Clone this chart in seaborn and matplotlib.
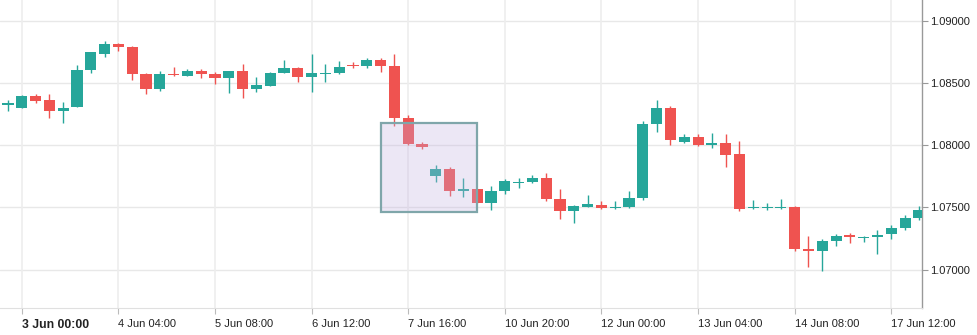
import matplotlib
matplotlib.use("Agg")
import matplotlib.pyplot as plt
import seaborn as sns
import numpy as np
import pandas as pd
from matplotlib.patches import Rectangle

# ---- data (4-hour EUR/USD style candles) ----
opens = [1.08326, 1.08301, 1.08395, 1.08363, 1.08277, 1.08309, 1.08607, 1.08735, 1.08813, 1.08789,
         1.08572, 1.08454, 1.08572, 1.08558, 1.08596, 1.08572, 1.08542, 1.08596, 1.08454, 1.08478,
         1.08582, 1.08620, 1.08550, 1.08574, 1.08582, 1.08644, 1.08639, 1.08684, 1.08636, 1.08219,
         1.08010, 1.07753, 1.07809, 1.07635, 1.07649, 1.07538, 1.07635, 1.07699, 1.07707, 1.07737,
         1.07568, 1.07474, 1.07506, 1.07520, 1.07498, 1.07506, 1.07576, 1.08173, 1.08299, 1.08028,
         1.08066, 1.08004, 1.08018, 1.07930, 1.07498, 1.07498, 1.07498, 1.07504, 1.07167, 1.07153,
         1.07233, 1.07279, 1.07258, 1.07266, 1.07290, 1.07338, 1.07418]
highs = [1.08361, 1.08403, 1.08411, 1.08411, 1.08347, 1.08644, 1.08752, 1.08839, 1.08819, 1.08797,
         1.08582, 1.08596, 1.08631, 1.08615, 1.08612, 1.08588, 1.08599, 1.08652, 1.08548, 1.08588,
         1.08684, 1.08628, 1.08733, 1.08652, 1.08676, 1.08668, 1.08700, 1.08700, 1.08733, 1.08243,
         1.08026, 1.07841, 1.07825, 1.07737, 1.07652, 1.07673, 1.07729, 1.07737, 1.07761, 1.07777,
         1.07649, 1.07520, 1.07600, 1.07552, 1.07552, 1.07633, 1.08195, 1.08363, 1.08315, 1.08090,
         1.08090, 1.08098, 1.08090, 1.08034, 1.07560, 1.07536, 1.07568, 1.07512, 1.07271, 1.07247,
         1.07287, 1.07295, 1.07274, 1.07319, 1.07359, 1.07440, 1.07512]
lows = [1.08277, 1.08298, 1.08342, 1.08221, 1.08181, 1.08305, 1.08582, 1.08711, 1.08759, 1.08526,
        1.08414, 1.08438, 1.08558, 1.08555, 1.08542, 1.08492, 1.08422, 1.08382, 1.08430, 1.08475,
        1.08580, 1.08510, 1.08430, 1.08510, 1.08574, 1.08623, 1.08623, 1.08590, 1.08157, 1.08002,
        1.07972, 1.07707, 1.07595, 1.07587, 1.07535, 1.07482, 1.07611, 1.07659, 1.07699, 1.07555,
        1.07410, 1.07378, 1.07503, 1.07490, 1.07490, 1.07498, 1.07563, 1.08109, 1.08004, 1.08020,
        1.07996, 1.07980, 1.07828, 1.07474, 1.07490, 1.07482, 1.07490, 1.07153, 1.07025, 1.06993,
        1.07193, 1.07217, 1.07225, 1.07129, 1.07249, 1.07322, 1.07402]
closes = [1.08339, 1.08395, 1.08358, 1.08277, 1.08299, 1.08604, 1.08749, 1.08813, 1.08791, 1.08574,
          1.08454, 1.08572, 1.08564, 1.08596, 1.08574, 1.08542, 1.08596, 1.08454, 1.08484, 1.08580,
          1.08620, 1.08550, 1.08580, 1.08580, 1.08628, 1.08639, 1.08684, 1.08639, 1.08221, 1.08010,
          1.07988, 1.07809, 1.07635, 1.07646, 1.07538, 1.07633, 1.07713, 1.07705, 1.07737, 1.07571,
          1.07474, 1.07512, 1.07528, 1.07498, 1.07504, 1.07576, 1.08170, 1.08299, 1.08044, 1.08066,
          1.08004, 1.08018, 1.07924, 1.07490, 1.07504, 1.07504, 1.07504, 1.07169, 1.07153, 1.07231,
          1.07271, 1.07266, 1.07266, 1.07279, 1.07335, 1.07416, 1.07480]

tick_positions = [1, 8, 15, 22, 29, 36, 43, 50, 57, 64]
tick_labels = ["3 Jun 00:00", "4 Jun 04:00", "5 Jun 08:00", "6 Jun 12:00", "7 Jun 16:00",
               "10 Jun 20:00", "12 Jun 00:00", "13 Jun 04:00", "14 Jun 08:00", "17 Jun 12:00"]
y_ticks = [1.07000, 1.07500, 1.08000, 1.08500, 1.09000]

# highlighted zone
zone_x = [27, 34]
zone_y = [1.07464, 1.08179]

# ---- figure ----
sns.set_theme(style="white")
plt.rcParams["font.family"] = ["Liberation Sans", "DejaVu Sans"]

df = pd.DataFrame({"open": opens, "high": highs, "low": lows, "close": closes})
df["idx"] = np.arange(len(df))
up = df["close"] >= df["open"]
GREEN = "#26A69A"
RED = "#EF5350"
df["color"] = np.where(up, GREEN, RED)
body_low = df[["open", "close"]].min(axis=1)
body_h = (df["close"] - df["open"]).abs().clip(lower=0.00009)

fig = plt.figure(figsize=(9.78, 3.35), dpi=100)
ax = fig.add_axes([0.0, 1 - 308 / 335, 922 / 978, 308 / 335])

# grid
for yv in y_ticks:
    ax.axhline(yv, color="#E8E8E8", lw=1.0, zorder=0)
for xv in tick_positions:
    ax.axvline(xv, color="#EDEDED", lw=1.2, zorder=0)

ax.vlines(df["idx"], df["low"], df["high"], colors=df["color"], lw=1.0, zorder=2)
ax.bar(df["idx"], body_h, bottom=body_low, width=0.8, color=df["color"], linewidth=0, zorder=3)

ax.add_patch(Rectangle((zone_x[0], zone_y[0]), zone_x[1] - zone_x[0], zone_y[1] - zone_y[0],
                       facecolor=(0.76, 0.69, 0.88, 0.30), edgecolor="#7FA6AA", lw=1.6, zorder=5))

ax.set_xlim(-0.58, 66.23)
ax.set_ylim(1.091662 - 0.0000803 * 308, 1.091662)

ax.yaxis.tick_right()
ax.set_yticks(y_ticks)
ax.set_yticklabels([f"{v:.5f}" for v in y_ticks], fontsize=8, color="#222222")
ax.tick_params(axis="y", which="both", right=True, length=4, width=0.8, color="#999999", pad=2)

ax.set_xticks(tick_positions)
ax.set_xticklabels(tick_labels, fontsize=8, color="#222222", ha="left",
                   family=["Liberation Sans Narrow", "Liberation Sans", "DejaVu Sans"])
ax.tick_params(axis="x", which="both", bottom=True, length=4, width=0.8, color="#BBBBBB", pad=4)
lbl0 = ax.get_xticklabels()[0]
lbl0.set_fontweight("bold")
lbl0.set_fontsize(8.8)

for s in ["top", "left"]:
    ax.spines[s].set_visible(False)
ax.spines["right"].set_color("#999999")
ax.spines["right"].set_linewidth(1.0)
ax.spines["bottom"].set_color("#E0E0E0")
ax.spines["bottom"].set_linewidth(0.8)
ax.set_xlabel("")
ax.set_ylabel("")

fig.savefig("out.png", dpi=100)
